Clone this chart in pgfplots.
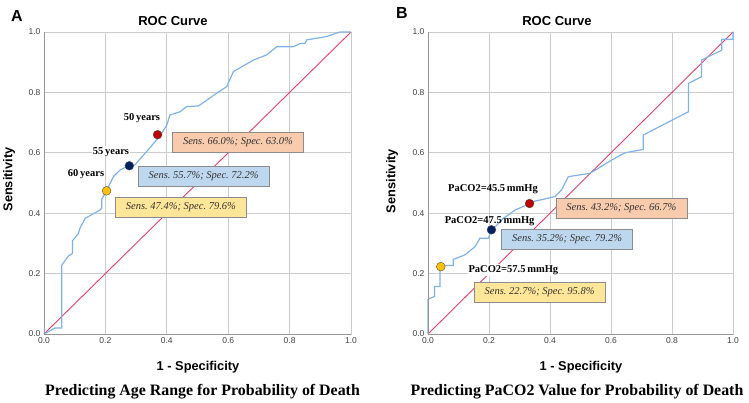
\documentclass[border=0pt]{standalone}
\usepackage{pgfplots}
\pgfplotsset{compat=1.18}
\usepackage{fontspec}
\setmainfont{Liberation Serif}
\setsansfont{Liberation Sans}
\definecolor{rocblue}{RGB}{128,178,230}
\definecolor{diagred}{RGB}{226,64,106}
\definecolor{gridg}{RGB}{204,204,204}
\definecolor{axg}{RGB}{150,150,150}
\definecolor{boxor}{RGB}{248,203,173}
\definecolor{boxbl}{RGB}{189,215,238}
\definecolor{boxye}{RGB}{255,230,153}
\definecolor{ptred}{RGB}{192,0,0}
\definecolor{ptnavy}{RGB}{0,32,96}
\definecolor{ptyel}{RGB}{255,192,0}
\pgfplotsset{
  rocax/.style={
    scale only axis, height=302pt,
    xmin=0, xmax=1, ymin=0, ymax=1,
    xtick={0,0.2,...,1.0}, ytick={0,0.2,...,1.0},
    grid=major, major grid style={gridg, line width=0.8pt},
    axis line style={gridg, line width=0.8pt},
    tick style={draw=none},
    /pgf/number format/.cd, fixed, fixed zerofill, precision=1, assume math mode=true, /pgfplots/.cd,
    ticklabel style={font=\sffamily\fontsize{8.5}{9}\selectfont, text=black!75},
    xticklabel style={yshift=-0.5pt},
    yticklabel style={xshift=0pt},
    clip=false,
  },
}
\tikzset{
  sbox/.style={draw=black!45, line width=0.5pt, inner xsep=6pt, inner ysep=2pt, font=\frenchspacing\itshape\fontsize{10.5}{12}\selectfont, text=black!80, minimum height=20pt, minimum width=131pt},
  ylab/.style={font=\frenchspacing\bfseries\fontsize{10.5}{12}\selectfont, fill=white, inner sep=1pt},
}
\begin{document}
\begin{tikzpicture}
\useasboundingbox (0pt,0pt) rectangle (749pt,403pt);
% Panel A
\begin{axis}[rocax, width=307pt, at={(44pt,69pt)}, anchor=south west]
\addplot[diagred, line width=0.9pt] coordinates {(0,0) (1,1)};
\addplot[rocblue, line width=1.2pt] coordinates {
(0,0) (0.036,0.02) (0.058,0.02) (0.058,0.228) (0.079,0.258) (0.093,0.267) (0.093,0.309)
(0.112,0.333) (0.117,0.35) (0.134,0.383) (0.182,0.41) (0.188,0.416) (0.188,0.446)
(0.206,0.479) (0.226,0.521) (0.248,0.543) (0.269,0.554) (0.278,0.557) (0.296,0.56)
(0.334,0.604) (0.362,0.637) (0.383,0.664) (0.40,0.692) (0.41,0.725) (0.443,0.736)
(0.465,0.753) (0.503,0.755) (0.562,0.797) (0.595,0.819) (0.617,0.869) (0.682,0.907)
(0.725,0.924) (0.758,0.951) (0.812,0.951) (0.834,0.962) (0.85,0.962) (0.856,0.974)
(0.921,0.985) (0.964,1.0) (1,1)};
\addplot[only marks, mark=*, mark size=4.4pt, mark options={fill=ptred, draw=black!70, line width=0.4pt}] coordinates {(0.37,0.66)};
\addplot[only marks, mark=*, mark size=4.4pt, mark options={fill=ptnavy, draw=black!70, line width=0.4pt}] coordinates {(0.278,0.557)};
\addplot[only marks, mark=*, mark size=4.4pt, mark options={fill=ptyel, draw=black!70, line width=0.4pt}] coordinates {(0.204,0.474)};
\node[ylab] at (axis cs:0.319,0.715) {50\,years};
\node[ylab] at (axis cs:0.218,0.603) {55\,years};
\node[ylab] at (axis cs:0.137,0.53) {60\,years};
\node[sbox, fill=boxor] at (axis cs:0.632,0.636) {Sens. 66.0\%; Spec. 63.0\%};
\node[sbox, fill=boxbl] at (axis cs:0.52,0.522) {Sens. 55.7\%; Spec. 72.2\%};
\node[sbox, fill=boxye] at (axis cs:0.446,0.42) {Sens. 47.4\%; Spec. 79.6\%};
\end{axis}
\draw[axg, line width=0.8pt] (44pt,69pt) -- (44pt,371pt);
\draw[axg, line width=0.8pt] (44pt,69pt) -- (351pt,69pt);
% Panel B
\begin{axis}[rocax, width=305pt, at={(428pt,69pt)}, anchor=south west]
\addplot[diagred, line width=0.9pt] coordinates {(0,0) (1,1)};
\addplot[rocblue, line width=1.2pt] coordinates {
(0,0) (0,0.115) (0.021,0.124) (0.021,0.157) (0.039,0.157) (0.039,0.227) (0.083,0.227)
(0.083,0.247) (0.121,0.262) (0.154,0.289) (0.170,0.317) (0.198,0.317) (0.208,0.345)
(0.22,0.355) (0.247,0.383) (0.285,0.41) (0.333,0.432) (0.35,0.44) (0.378,0.446)
(0.416,0.455) (0.438,0.477) (0.46,0.521) (0.531,0.532) (0.602,0.576) (0.646,0.6)
(0.706,0.611) (0.706,0.659) (0.854,0.736) (0.854,0.83) (0.897,0.852) (0.897,0.907)
(0.963,0.94) (0.963,0.976) (1,0.976) (1,1)};
\addplot[only marks, mark=*, mark size=4.4pt, mark options={fill=ptred, draw=black!70, line width=0.4pt}] coordinates {(0.333,0.432)};
\addplot[only marks, mark=*, mark size=4.4pt, mark options={fill=ptnavy, draw=black!70, line width=0.4pt}] coordinates {(0.208,0.345)};
\addplot[only marks, mark=*, mark size=4.4pt, mark options={fill=ptyel, draw=black!70, line width=0.4pt}] coordinates {(0.042,0.223)};
\node[ylab, fill=none] at (axis cs:0.213,0.48) {PaCO2=45.5\,mmHg};
\node[ylab, fill=none] at (axis cs:0.202,0.375) {PaCO2=47.5\,mmHg};
\node[ylab] at (axis cs:0.28,0.212) {PaCO2=57.5\,mmHg};
\node[sbox, fill=boxor] at (axis cs:0.634,0.417) {Sens. 43.2\%; Spec. 66.7\%};
\node[sbox, fill=boxbl] at (axis cs:0.456,0.315) {Sens. 35.2\%; Spec. 79.2\%};
\node[sbox, fill=boxye] at (axis cs:0.366,0.139) {Sens. 22.7\%; Spec. 95.8\%};
\end{axis}
\draw[axg, line width=0.8pt] (428pt,69pt) -- (428pt,371pt);
\draw[axg, line width=0.8pt] (428pt,69pt) -- (733pt,69pt);
% Texts
\node[font=\sffamily\bfseries\fontsize{16}{18}\selectfont] at (17pt,387pt) {A};
\node[font=\sffamily\bfseries\fontsize{16}{18}\selectfont] at (402pt,390pt) {B};
\node[font=\sffamily\bfseries\fontsize{13}{15}\selectfont] at (173pt,382pt) {ROC Curve};
\node[font=\sffamily\bfseries\fontsize{13}{15}\selectfont] at (557pt,382pt) {ROC Curve};
\node[font=\sffamily\bfseries\fontsize{12.8}{14}\selectfont, rotate=90] at (9pt,223.5pt) {Sensitivity};
\node[font=\sffamily\bfseries\fontsize{12.8}{14}\selectfont, rotate=90] at (392pt,222pt) {Sensitivity};
\node[font=\sffamily\bfseries\fontsize{12.8}{14}\selectfont] at (198pt,36pt) {1 - Specificity};
\node[font=\sffamily\bfseries\fontsize{12.8}{14}\selectfont] at (581pt,36pt) {1 - Specificity};
\node[font=\bfseries\fontsize{15.9}{18}\selectfont] at (202.5pt,11pt) {Predicting Age Range for Probability of Death};
\node[font=\bfseries\fontsize{15.9}{18}\selectfont] at (577pt,11pt) {Predicting PaCO2 Value for Probability of Death};
\end{tikzpicture}
\end{document}
